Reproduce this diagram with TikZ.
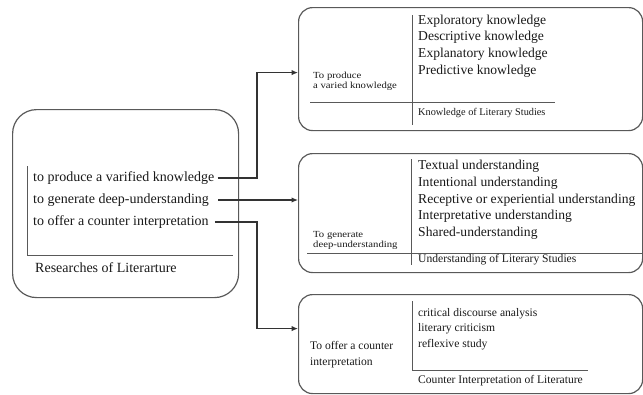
\documentclass[tikz,border=0pt]{standalone}
\usepackage{fontspec}
\setmainfont{Liberation Serif}
\newfontfamily\stretchfont[FakeStretch=1.15]{Liberation Serif}
\usetikzlibrary{arrows.meta}
\begin{document}
\begin{tikzpicture}[x=1pt,y=-1pt,
  box/.style={draw=black!65, line width=1.2pt, rounded corners=14pt, inner sep=0pt, anchor=north west},
  bigbox/.style={box, rounded corners=24pt},
  inner/.style={draw=black!65, line width=0.9pt},
  conn/.style={draw=black!80, line width=1.2pt},
  arr/.style={conn, -{Latex[length=6.5pt,width=5.5pt]}},
  txt/.style={text=black!90, inner sep=0pt, anchor=west, align=left},
  lefttxt/.style={txt, font=\fontsize{14}{21.5}\selectfont},
  itemtxt/.style={txt, font=\fontsize{13.6}{16.7}\selectfont},
  smalltxt/.style={txt, font=\stretchfont\fontsize{9.3}{10}\selectfont},
  midtxt/.style={txt, font=\fontsize{11.6}{15.5}\selectfont},
  captxt/.style={txt, font=\fontsize{10.3}{12}\selectfont},
  capbtxt/.style={txt, font=\fontsize{11.6}{13}\selectfont}]
\useasboundingbox (0,0) rectangle (643,394);

% boxes
\node[bigbox, minimum width=226pt, minimum height=188pt] (left) at (12,109) {};
\node[box, minimum width=344pt, minimum height=123pt] (top) at (298,7) {};
\node[box, minimum width=344pt, minimum height=119pt] (mid) at (298,153) {};
\node[box, minimum width=344pt, minimum height=99pt] (bot) at (298,294) {};

% left box content
\draw[inner] (27,166) -- (27,255) -- (233,255);
\node[lefttxt] (p1) at (33,178) {to produce a varified knowledge};
\node[lefttxt] (p2) at (33,200) {to generate deep-understanding};
\node[lefttxt] (p3) at (33,222) {to offer a counter interpretation};
\node[lefttxt] (lcap) at (35,268) {Researches of Literarture};

% top box content
\draw[inner] (412,15) -- (412,125);
\draw[inner] (310,102) -- (555,102);
\node[itemtxt] (titems) at (418,46) {Exploratory knowledge\\Descriptive knowledge\\Explanatory knowledge\\Predictive knowledge};
\node[smalltxt] (tlab) at (313,81) {To produce\\a varied knowledge};
\node[captxt] (tcap) at (418,113) {Knowledge of Literary Studies};

% middle box content
\draw[inner] (411,159) -- (411,265);
\draw[inner] (307,253) -- (642,253);
\node[itemtxt] (mitems) at (418,200) {Textual understanding\\Intentional understanding\\Receptive or experiential understanding\\Interpretative understanding\\Shared-understanding};
\node[smalltxt] (mlab) at (313,240) {To generate\\deep-understanding};
\node[capbtxt] (mcap) at (418,260) {Understanding of Literary Studies};

% bottom box content
\draw[inner] (412,301) -- (412,370) -- (588,370);
\node[midtxt] (bitems) at (418,329) {critical discourse analysis\\literary criticism\\reflexive study};
\node[midtxt] (blab) at (310,354.5) {To offer a counter\\interpretation};
\node[capbtxt] (bcap) at (418,381) {Counter Interpretation of Literature};

% connectors
\coordinate (j) at (257,0);
\coordinate (ta) at ([yshift=-3.5pt]top.west);
\coordinate (ba) at ([yshift=15.5pt]bot.west);
\draw[arr] ([xshift=3pt]p1.east) -- (p1.east -| j) |- (ta);
\draw[arr] ([xshift=9pt]p2.east) -- (p2.east -| mid.west);
\draw[arr] ([xshift=6pt]p3.east) -- (p3.east -| j) |- (ba);
\end{tikzpicture}
\end{document}
